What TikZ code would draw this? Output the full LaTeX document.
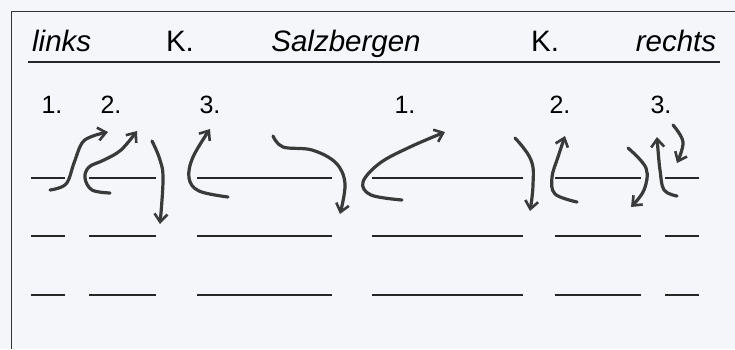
\documentclass[tikz,border=0pt]{standalone}
\usepackage{fontspec}
\setmainfont{Liberation Sans}
\usetikzlibrary{arrows.meta}
\definecolor{paper}{HTML}{F4F6FA}
\definecolor{pen}{HTML}{3A3A3A}
\begin{document}
\begin{tikzpicture}[x=1pt,y=-1pt,
  head/.style={font=\fontsize{29.5}{32}\selectfont,inner sep=0pt,anchor=base},
  num/.style={font=\fontsize{25}{28}\selectfont,inner sep=0pt,anchor=base},
  track/.style={line width=2.2pt,black!85},
  hand/.style={line width=3.2pt,pen,line cap=round,line join=round,
    -{Straight Barb[length=8pt,width=13pt,line width=2.6pt]}}]
\fill[paper] (0,0) rectangle (735,349);
\useasboundingbox (0,0) rectangle (735,349);
% frame
\draw[line width=1pt,black!80] (11,349) -- (11,11) -- (735,11);
% header
\node[head,anchor=base west] (hl) at (32,51) {\itshape links};
\node[head] (hk1) at (180,51) {K.};
\node[head] (hs) at (346,51) {\itshape Salzbergen};
\node[head] (hk2) at (545,51) {K.};
\node[head] (hr) at (676,51) {\itshape rechts};
\draw[line width=2.6pt,black!85] (28,62) -- (720,62);
% numbers
\node[num] (n1) at (52,113) {1.};
\node[num] (n2) at (111,113) {2.};
\node[num] (n3) at (210,113) {3.};
\node[num] (m1) at (405,113) {1.};
\node[num] (m2) at (560,113) {2.};
\node[num] (m3) at (661,113) {3.};
% tracks
\foreach \y in {178,236,295}{
  \draw[track] (31,\y) -- (65,\y);
  \draw[track] (89,\y) -- (156,\y);
  \draw[track] (197,\y) -- (332,\y);
  \draw[track] (372,\y) -- (523,\y);
  \draw[track] (555,\y) -- (641,\y);
  \draw[track] (665,\y) -- (699,\y);
}
% hand drawn arrows
\draw[hand] plot[smooth,tension=0.6] coordinates {(50,190) (66,184) (74,163) (82,143) (93,136) (108,132)};
\draw[hand] plot[smooth,tension=0.6] coordinates {(110,193) (92,190) (85,178) (89,167) (104,160) (121,150) (137,131)};
\draw[hand] plot[smooth,tension=0.7] coordinates {(152,141) (160,160) (163,180) (160,224)};
\draw[hand] plot[smooth,tension=0.6] coordinates {(228,197) (199,191) (189,178) (193,157) (210,129)};
\draw[hand] plot[smooth,tension=0.6] coordinates {(273,136) (283,147) (312,150) (336,163) (345,184) (340,214)};
\draw[hand] plot[smooth,tension=0.6] coordinates {(402,200) (371,195) (363,182) (380,163) (410,147) (445,132)};
\draw[hand] plot[smooth,tension=0.7] coordinates {(515,138) (531,160) (533,185) (530,211)};
\draw[hand] plot[smooth,tension=0.6] coordinates {(577,202) (555,194) (552,177) (558,157) (565,136)};
\draw[hand] plot[smooth,tension=0.6] coordinates {(628,148) (646,168) (644,190) (631,207)};
\draw[hand] plot[smooth,tension=0.6] coordinates {(677,196) (664,190) (660,170) (658,150) (657,137)};
\draw[hand] plot[smooth,tension=0.6] coordinates {(673,125) (683,142) (677,163)};
\end{tikzpicture}
\end{document}
